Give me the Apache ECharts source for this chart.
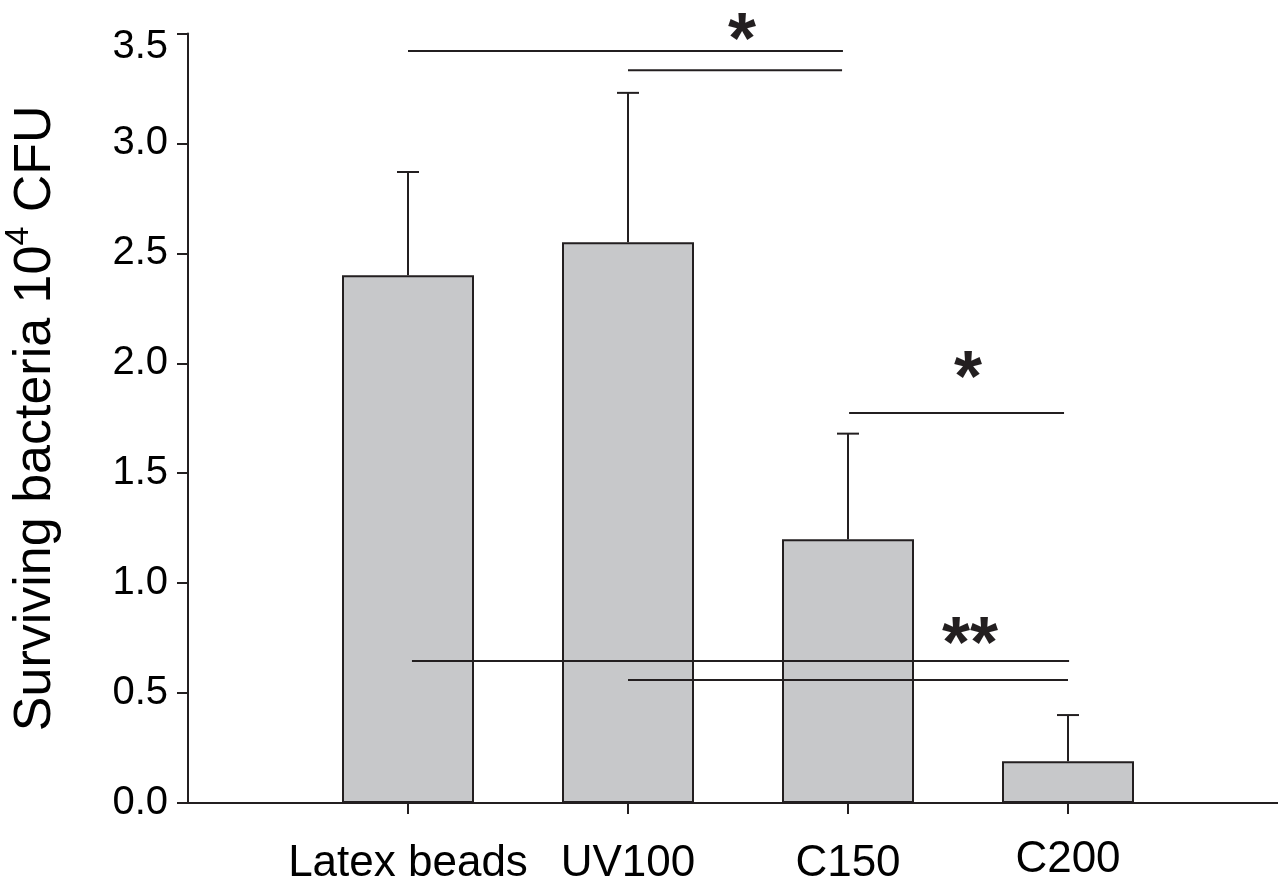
<!DOCTYPE html>
<html>
<head>
<meta charset="utf-8">
<script src="https://cdn.jsdelivr.net/npm/echarts@6/dist/echarts.min.js"></script>
<style>
html,body{margin:0;padding:0;background:#fff;}
#chart{width:1278px;height:882px;}
</style>
</head>
<body>
<div id="chart"></div>
<script>
// ---- data ----
const categories = ['Latex beads', 'UV100', 'C150', 'C200'];
const positions = [1, 2, 3, 4];
const means = [2.40, 2.55, 1.20, 0.19];
const errors = [0.47, 0.68, 0.48, 0.21];
const yTicks = [0, 0.5, 1.0, 1.5, 2.0, 2.5, 3.0, 3.5];
// significance brackets: [xStart, xEnd, y]
const brackets = [
  [1.0, 2.977, 3.42],
  [2.0, 2.973, 3.333],
  [3.005, 3.982, 1.774],
  [1.018, 4.005, 0.646],
  [2.0, 4.0, 0.559]
];
// significance marks: [x, y, text]
const marks = [
  [2.518, 3.455, '*'],
  [3.545, 1.92, '*'],
  [3.555, 0.71, '**']
];

const ink = '#231f20';
const font = '"Liberation Sans", Arial, Helvetica, sans-serif';

const chart = echarts.init(document.getElementById('chart'));
chart.setOption({
  animation: false,
  backgroundColor: '#ffffff',
  grid: { left: 188, right: -10, top: 33.5, bottom: 79, containLabel: false, outerBoundsMode: 'none' },
  xAxis: {
    type: 'value',
    min: 0,
    max: 5,
    interval: 1,
    splitLine: { show: false },
    axisLine: { show: true, lineStyle: { color: ink, width: 2 } },
    axisTick: { show: true, length: 11, inside: false, lineStyle: { color: ink, width: 2 }, customValues: positions },
    axisLabel: {
      show: true,
      customValues: positions,
      margin: 35,
      color: '#000',
      fontFamily: font,
      fontSize: 44,
      formatter: function (v) {
        const i = positions.indexOf(v);
        if (i < 0) return '';
        return i === 3 ? '{hi|' + categories[i] + '}' : '{n|' + categories[i] + '}';
      },
      rich: {
        n: { fontSize: 44, fontFamily: font, color: '#000', padding: [4, 0, 0, 0] },
        hi: { fontSize: 44, fontFamily: font, color: '#000' }
      }
    }
  },
  yAxis: {
    type: 'value',
    min: 0,
    max: 3.5,
    interval: 0.5,
    splitLine: { show: false },
    axisLine: { show: true, lineStyle: { color: ink, width: 2 } },
    axisTick: { show: true, length: 11, lineStyle: { color: ink, width: 2 } },
    axisLabel: {
      margin: 20,
      color: '#000',
      fontFamily: font,
      fontSize: 40,
      formatter: function (v) {
        return v === 3.5 ? '{t|' + v.toFixed(1) + '}' : v.toFixed(1);
      },
      rich: {
        t: { fontSize: 40, fontFamily: font, color: '#000', padding: [26, 0, 0, 0] }
      }
    },
    name: '{a|Surviving bacteria 10}{s|4}{a| CFU}',
    nameLocation: 'middle',
    nameGap: 126,
    nameRotate: 90,
    nameTextStyle: {
      fontFamily: font,
      fontSize: 52,
      color: '#000',
      rich: {
        a: { fontFamily: font, fontSize: 52, color: '#000', lineHeight: 60, verticalAlign: 'bottom' },
        s: { fontFamily: font, fontSize: 34, color: '#000', lineHeight: 34, verticalAlign: 'top' }
      }
    }
  },
  series: [
    {
      type: 'bar',
      barWidth: 132,
      data: positions.map((p, i) => [p, means[i]]),
      itemStyle: { color: '#c7c8ca', borderColor: ink, borderWidth: 2 },
      z: 2
    },
    {
      type: 'custom',
      z: 1,
      data: positions.map((p, i) => [p, means[i], means[i] + errors[i]]),
      renderItem: function (params, api) {
        const base = api.coord([api.value(0), api.value(1)]);
        const top = api.coord([api.value(0), api.value(2)]);
        const half = 11;
        return {
          type: 'group',
          children: [
            { type: 'line', shape: { x1: base[0], y1: base[1], x2: top[0], y2: top[1] }, style: { stroke: ink, lineWidth: 2 } },
            { type: 'line', shape: { x1: top[0] - half, y1: top[1], x2: top[0] + half, y2: top[1] }, style: { stroke: ink, lineWidth: 2 } }
          ]
        };
      }
    },
    {
      type: 'custom',
      z: 5,
      clip: false,
      data: brackets,
      renderItem: function (params, api) {
        const a = api.coord([api.value(0), api.value(2)]);
        const b = api.coord([api.value(1), api.value(2)]);
        return { type: 'line', shape: { x1: a[0], y1: a[1], x2: b[0], y2: b[1] }, style: { stroke: ink, lineWidth: 2 } };
      }
    },
    {
      type: 'custom',
      z: 6,
      clip: false,
      data: marks,
      renderItem: function (params, api) {
        const p = api.coord([api.value(0), api.value(1)]);
        return {
          type: 'text',
          x: p[0],
          y: p[1],
          style: {
            text: marks[params.dataIndex][2],
            fill: ink,
            font: 'bold 72px ' + font,
            align: 'center',
            verticalAlign: 'middle'
          }
        };
      }
    }
  ]
});
</script>
</body>
</html>
